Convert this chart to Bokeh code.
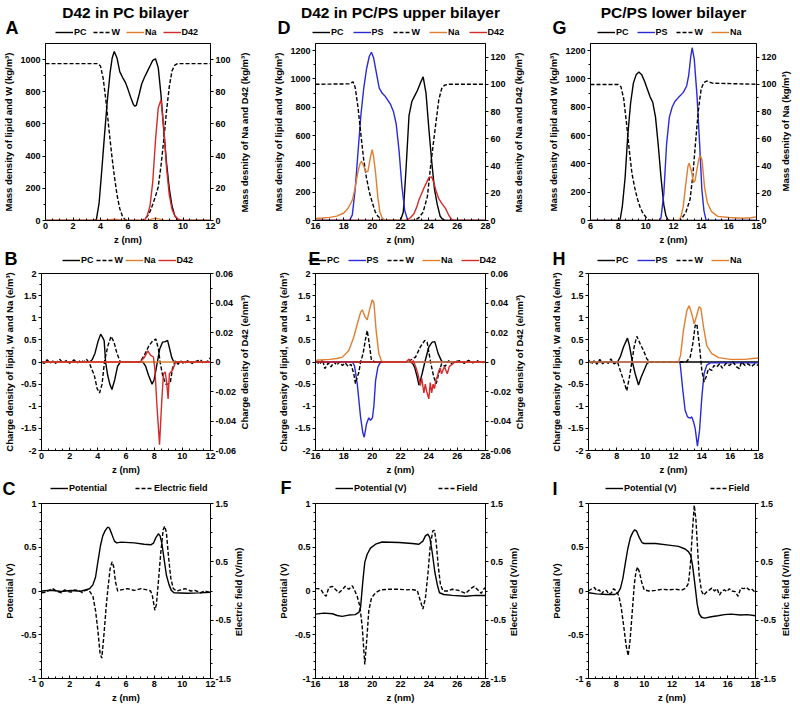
import math
from bokeh.plotting import figure
from bokeh.layouts import row, column
from bokeh.models import (Range1d, LinearAxis, FixedTicker, CustomJSTickFormatter,
                          Legend, LegendItem)
from bokeh.core.properties import value
from bokeh.embed import file_html
from bokeh.resources import INLINE

# ---------------- data (z in nm) ----------------
# Panel A : D42 in PC bilayer, mass density (left kg/m3 ; right kg/m3 for Na, D42)
A_PC = [(0,0),(3.5,0),(3.7,5),(3.9,110),(4.1,320),(4.3,540),(4.5,750),(4.7,920),(4.85,1010),(5.0,1050),
        (5.2,1010),(5.4,925),(5.6,890),(5.8,860),(6.0,815),(6.2,765),(6.4,720),(6.5,710),(6.6,715),(6.8,780),
        (7.0,850),(7.2,890),(7.4,925),(7.6,960),(7.8,995),(8.0,1005),(8.2,950),(8.4,780),(8.6,560),(8.8,360),
        (9.0,200),(9.2,90),(9.4,30),(9.6,5),(9.8,0),(12,0)]
A_W = [(0,975),(3.8,975),(4.0,960),(4.2,880),(4.4,740),(4.6,580),(4.8,420),(5.0,280),(5.2,160),(5.4,75),
       (5.6,25),(5.8,5),(6.0,0),(7.0,0),(7.2,8),(7.4,25),(7.6,55),(7.8,100),(8.0,150),(8.2,210),(8.4,340),
       (8.6,500),(8.8,680),(9.0,830),(9.2,930),(9.4,965),(9.6,975),(12,975)]
A_NA = [(0,0),(4.4,0),(4.8,0.6),(5.0,0.8),(5.2,0.6),(5.6,0),(7.4,0),(7.8,1.0),(8.0,1.4),(8.2,1.0),(8.6,0.2),(9.0,0),(12,0)]
A_D42 = [(0,0),(7.2,0),(7.4,3),(7.6,9),(7.8,24),(8.0,50),(8.2,70),(8.4,75),(8.6,58),(8.8,33),(9.0,16),
         (9.2,7),(9.4,3),(9.6,1.2),(9.8,0.4),(10.0,0),(12,0)]

# Panel D : D42 in PC/PS upper bilayer
D_PC = [(16,0),(22.0,0),(22.2,60),(22.4,380),(22.6,740),(22.8,840),(23.0,880),(23.2,920),(23.4,970),(23.6,1015),
        (23.8,900),(24.0,650),(24.2,420),(24.4,220),(24.6,110),(24.8,30),(25.0,5),(25.2,0),(28,0)]
D_PS = [(16,0),(18.4,0),(18.6,40),(18.8,220),(19.0,480),(19.2,740),(19.4,930),(19.6,1070),(19.8,1160),(19.95,1188),
        (20.1,1150),(20.3,1040),(20.5,935),(20.7,900),(20.9,880),(21.1,850),(21.3,820),(21.5,770),(21.7,680),
        (21.9,490),(22.1,240),(22.3,70),(22.5,5),(22.6,0),(28,0)]
D_W = [(16,962),(18.4,965),(18.65,980),(18.8,940),(19.0,800),(19.2,610),(19.4,430),(19.6,300),(19.8,200),(20.0,130),
       (20.2,65),(20.4,30),(20.6,12),(20.8,0),(23.0,0),(23.3,20),(23.6,60),(23.9,170),(24.1,360),(24.3,530),
       (24.5,690),(24.7,850),(24.9,930),(25.1,955),(25.4,962),(28,962)]
D_NA = [(16,1.5),(16.5,1.8),(17,2.3),(17.5,3.2),(18,5.5),(18.3,9),(18.6,15),(18.8,24),(19.0,36),(19.15,42),
        (19.25,43.5),(19.4,40),(19.55,36),(19.7,36),(19.85,45),(20.0,52),(20.1,47),(20.25,34),(20.4,17),
        (20.55,6),(20.7,2),(20.9,0.3),(21.2,0),(28,0)]
D_D42 = [(16,0),(22.4,0),(22.7,2),(22.95,5),(23.15,10),(23.3,15),(23.5,20),(23.7,25),(23.85,28),(24.0,31.5),
         (24.2,32),(24.35,28),(24.5,22),(24.7,16),(24.95,12),(25.2,8.5),(25.4,4),(25.6,1),(25.8,0),(28,0)]

# Panel G : PC/PS lower bilayer
G_PC = [(6,0),(8.0,0),(8.15,10),(8.3,100),(8.5,300),(8.7,610),(8.9,830),(9.1,970),(9.3,1030),(9.5,1048),
        (9.7,1030),(9.9,985),(10.1,930),(10.3,875),(10.5,835),(10.7,730),(10.9,530),(11.1,300),(11.3,110),
        (11.45,35),(11.6,5),(11.8,0),(18,0)]
G_PS = [(6,0),(11.0,0),(11.1,20),(11.3,190),(11.5,540),(11.7,730),(11.9,800),(12.1,840),(12.35,868),(12.7,903),
        (12.95,950),(13.1,1025),(13.25,1160),(13.35,1220),(13.5,1140),(13.7,880),(13.9,520),(14.05,220),
        (14.2,70),(14.35,5),(14.5,0),(18,0)]
G_W = [(6,960),(8.0,960),(8.2,945),(8.4,860),(8.6,690),(8.8,500),(9.0,330),(9.2,230),(9.4,150),(9.6,90),
       (9.8,50),(10.0,25),(10.2,5),(10.4,0),(12.4,0),(12.6,14),(12.9,60),(13.2,150),(13.4,320),(13.6,560),
       (13.8,780),(14.0,930),(14.2,975),(14.4,985),(14.8,970),(18,962)]
G_NA = [(6,0),(12.4,0),(12.55,3),(12.7,10),(12.9,28),(13.05,40),(13.13,42),(13.3,36),(13.45,28),(13.55,29),
        (13.7,38),(13.85,46),(13.95,47.4),(14.07,44),(14.15,35),(14.25,24),(14.45,13),(14.75,6.5),(15.2,3),
        (16,2.2),(17,1.6),(17.6,2),(18,2.7)]

# Panel B : charge density (left e/m3 ; right e/nm3 for D42)
B_PC = [(0,0),(3.4,0),(3.6,0.05),(3.8,0.2),(4.0,0.45),(4.2,0.63),(4.35,0.55),(4.45,0.48),(4.55,0.0),(4.7,-0.3),
        (4.85,-0.5),(5.0,-0.62),(5.2,-0.4),(5.4,-0.1),(5.6,0),(7.2,0),(7.4,-0.1),(7.6,-0.3),(7.85,-0.5),(8.0,-0.4),
        (8.2,-0.05),(8.4,0.3),(8.6,0.45),(8.8,0.46),(8.95,0.49),(9.1,0.3),(9.25,0.1),(9.4,0),(12,0)]
B_W = [(0,0),(0.2,-0.03),(0.4,0.05),(0.6,-0.02),(0.8,0.02),(1.0,-0.03),(1.3,0.06),(1.5,-0.02),(1.8,0.04),
       (2.0,-0.03),(2.3,0.05),(2.5,-0.02),(2.8,0.04),(3.0,0.0),(3.2,0.06),(3.4,-0.02),(3.55,-0.15),(3.75,-0.3),
       (3.95,-0.6),(4.12,-0.7),(4.3,-0.5),(4.47,0.0),(4.7,0.35),(4.94,0.58),(5.15,0.45),(5.35,0.2),(5.6,0.0),
       (7.0,0.0),(7.3,0.15),(7.6,0.35),(7.9,0.48),(8.12,0.52),(8.3,0.3),(8.42,0.0),(8.6,-0.3),(8.82,-0.5),
       (9.0,-0.5),(9.15,-0.45),(9.3,-0.15),(9.5,0.03),(9.7,-0.05),(9.9,0.02),(10.1,-0.04),(10.4,0.03),
       (10.7,-0.03),(11.0,0.02),(11.3,0.05),(11.5,-0.03),(11.8,0.02),(12,0.1)]
B_NA = [(0,0),(12,0)]
B_D42 = [(0,0),(7.0,0),(7.3,0.003),(7.55,0.0075),(7.75,0.0045),(7.95,0.0034),(8.05,-0.005),(8.2,-0.03),
         (8.38,-0.056),(8.52,-0.03),(8.66,-0.008),(8.78,-0.0067),(8.88,-0.013),(8.99,-0.025),(9.08,-0.008),
         (9.3,-0.0056),(9.53,0),(12,0)]

# Panel E
E_PC = [(16,0),(22.8,0),(23.0,-0.12),(23.18,-0.34),(23.3,-0.52),(23.4,-0.42),(23.53,-0.26),(23.72,0),(24.0,0.34),
        (24.24,0.45),(24.42,0.46),(24.66,0.19),(24.9,0.02),(25.1,0),(28,0)]
E_PS = [(16,0),(18.6,0),(18.75,-0.08),(18.95,-0.5),(19.18,-1.24),(19.34,-1.6),(19.44,-1.7),(19.6,-1.4),(19.76,-1.26),
        (19.88,-1.32),(20.02,-1.26),(20.12,-1.0),(20.24,-0.42),(20.4,-0.12),(20.55,-0.02),(20.7,0),(28,0)]
E_W = [(16,0.02),(16.3,-0.05),(16.5,0.05),(16.66,-0.15),(16.9,-0.02),(17.1,-0.11),(17.3,0.0),(17.5,-0.07),
       (17.7,0.0),(17.9,-0.08),(18.1,-0.02),(18.3,-0.1),(18.5,-0.05),(18.7,-0.26),(18.82,-0.49),(18.94,-0.34),
       (19.05,-0.25),(19.18,0.0),(19.36,0.19),(19.53,0.52),(19.65,0.71),(19.76,0.49),(19.95,0.04),(20.2,0),
       (22.4,0),(22.6,0.02),(23.06,0.11),(23.4,0.34),(23.72,0.49),(23.88,0.45),(24.12,0),(24.35,-0.34),
       (24.52,-0.49),(24.7,-0.26),(24.9,-0.04),(25.15,-0.1),(25.4,0.03),(25.6,-0.04),(25.9,0.01),(26.2,0.03),
       (26.5,-0.03),(26.8,0.04),(27.1,-0.02),(27.4,0.03),(27.7,-0.02),(28,0)]
E_NA = [(16,0.04),(17,0.06),(17.5,0.08),(17.9,0.11),(18.35,0.26),(18.7,0.56),(18.95,0.86),(19.18,1.12),(19.3,1.18),
        (19.5,1.02),(19.65,0.95),(19.8,1.16),(20.0,1.4),(20.12,1.35),(20.28,0.71),(20.47,0.19),(20.66,0.02),
        (20.9,0),(28,0)]
E_D42 = [(16,0),(22.4,0),(22.6,0.002),(22.8,-0.001),(22.9,0.001),(23.1,-0.004),(23.25,-0.009),(23.4,-0.016),
         (23.5,-0.011),(23.65,-0.021),(23.75,-0.015),(23.85,-0.02),(24.0,-0.025),(24.1,-0.014),(24.2,-0.021),
         (24.3,-0.015),(24.4,-0.018),(24.5,-0.012),(24.6,-0.01),(24.7,-0.006),(24.8,-0.004),(24.9,-0.008),
         (25.1,-0.003),(25.3,-0.008),(25.45,-0.003),(25.6,-0.002),(25.8,0),(28,0)]

# Panel H
H_PC = [(6,0),(8.05,0),(8.25,0.12),(8.47,0.34),(8.75,0.54),(8.89,0.37),(9.1,0),(9.29,-0.26),(9.53,-0.52),
        (9.72,-0.34),(9.88,-0.22),(10.12,-0.04),(10.3,0),(18,0)]
H_PS = [(6,0),(12.4,0),(12.47,-0.04),(12.66,-0.64),(12.82,-1.09),(12.99,-1.24),(13.18,-1.27),(13.29,-1.24),
        (13.41,-1.35),(13.53,-1.5),(13.69,-1.9),(13.84,-1.54),(14.0,-0.79),(14.16,-0.26),(14.35,-0.07),
        (14.6,-0.02),(18,-0.02)]
H_W = [(6,0.05),(6.2,-0.05),(6.4,0.03),(6.6,-0.05),(6.8,0.06),(7.0,-0.04),(7.2,0.02),(7.4,-0.03),(7.58,0.07),
       (7.8,-0.04),(8.05,0.0),(8.24,-0.19),(8.47,-0.41),(8.7,-0.65),(8.89,-0.34),(9.06,0),(9.22,0.34),(9.41,0.58),
       (9.65,0.41),(9.88,0.26),(10.12,0.07),(10.35,0),(12.9,0),(13.18,0.11),(13.36,0.41),(13.53,0.82),(13.65,0.86),
       (13.84,0.34),(14.0,-0.19),(14.16,-0.45),(14.3,-0.34),(14.47,-0.15),(14.7,-0.19),(14.85,-0.08),(15.06,-0.11),
       (15.25,-0.04),(15.45,-0.14),(15.7,-0.03),(15.95,-0.08),(16.2,0.0),(16.45,-0.11),(16.65,-0.15),(16.8,0.0),
       (17.05,-0.08),(17.25,-0.04),(17.5,-0.1),(17.75,-0.04),(18,-0.08)]
H_NA = [(6,0),(12.35,0),(12.5,0.15),(12.7,0.71),(12.94,1.16),(13.1,1.27),(13.29,1.09),(13.46,0.86),(13.6,1.01),
        (13.81,1.25),(13.93,1.22),(14.12,0.79),(14.35,0.37),(14.7,0.19),(15.18,0.1),(16,0.06),(17,0.06),(18,0.09)]

# Panel C, F, I : potential (left, V) and electric field (right, V/nm)
C_POT = [(0,0.0),(0.7,0.008),(1.4,-0.005),(2.1,0.005),(2.8,-0.003),(3.41,0.026),(3.65,0.07),(3.84,0.16),(4.0,0.33),
         (4.19,0.52),(4.35,0.63),(4.52,0.69),(4.7,0.73),(4.82,0.72),(4.99,0.65),(5.18,0.57),(5.34,0.55),(5.65,0.558),
         (6.59,0.55),(7.29,0.535),(7.76,0.528),(7.95,0.546),(8.12,0.61),(8.3,0.654),(8.42,0.63),(8.54,0.55),
         (8.7,0.37),(8.87,0.18),(9.06,0.07),(9.22,0.007),(9.41,-0.02),(10.35,-0.026),(11.2,-0.022),(12,-0.015)]
C_FIELD = [(0,-0.03),(0.3,-0.02),(0.6,0.02),(0.8,0.04),(1.05,0.0),(1.41,-0.03),(1.65,0.02),(1.9,-0.01),(2.1,-0.02),
           (2.35,0.02),(2.7,0.0),(2.9,-0.03),(3.15,0.02),(3.4,0.0),(3.65,-0.09),(3.84,-0.34),(4.0,-0.67),(4.16,-1.07),
           (4.28,-1.15),(4.42,-0.79),(4.59,-0.28),(4.7,0.0),(4.87,0.38),(5.01,0.5),(5.13,0.41),(5.25,0.16),(5.41,0.0),
           (5.65,0.02),(6.12,0.04),(6.6,0.01),(7.06,0.04),(7.5,0.02),(7.75,0.0),(7.88,-0.09),(8.05,-0.33),(8.16,-0.23),
           (8.3,0.16),(8.47,0.66),(8.64,1.05),(8.75,1.11),(8.87,1.0),(9.01,0.61),(9.18,0.22),(9.36,0.04),(9.6,0.0),
           (9.88,0.02),(10.2,0.04),(10.6,0.0),(10.9,0.01),(11.3,-0.03),(11.6,0.0),(11.95,-0.025)]
F_POT = [(16,-0.264),(16.6,-0.253),(17.2,-0.26),(17.53,-0.28),(17.88,-0.29),(18.35,-0.275),(18.8,-0.27),(19.06,-0.245),
         (19.18,-0.19),(19.34,0.11),(19.48,0.33),(19.65,0.42),(19.88,0.49),(20.24,0.535),(20.7,0.56),(21.9,0.554),
         (22.82,0.543),(23.3,0.535),(23.58,0.57),(23.76,0.63),(23.93,0.65),(24.07,0.61),(24.24,0.44),(24.42,0.22),
         (24.6,0.07),(24.75,-0.02),(25.06,-0.04),(25.65,-0.05),(26.6,-0.06),(27.3,-0.05),(28,-0.052)]
F_FIELD = [(16,0.04),(16.2,0.04),(16.4,0.02),(16.6,-0.06),(16.75,-0.09),(16.94,0.06),(17.2,0.08),(17.4,0.03),
           (17.65,-0.03),(17.88,0.02),(18.1,0.08),(18.35,0.03),(18.6,0.09),(18.78,0.0),(18.94,-0.09),(19.13,-0.26),
           (19.3,-0.62),(19.48,-1.26),(19.65,-0.73),(19.76,-0.34),(19.95,-0.12),(20.24,-0.03),(20.6,0.02),(21.18,0.03),
           (21.9,0.03),(22.4,0.02),(22.8,0.025),(23.18,0.01),(23.34,-0.12),(23.58,-0.31),(23.76,-0.12),(23.95,0.33),
           (24.1,0.78),(24.28,1.03),(24.4,1.04),(24.52,0.83),(24.66,0.44),(24.82,0.11),(25.0,0.0),(25.3,0.0),
           (25.65,0.03),(26.1,0.01),(26.6,-0.04),(26.95,0.04),(27.2,0.08),(27.45,0.02),(27.7,-0.04),(27.9,0.04),(28,0.06)]
I_POT = [(6,-0.02),(6.59,-0.033),(7.29,-0.04),(7.88,-0.04),(8.12,-0.02),(8.3,0.033),(8.47,0.145),(8.66,0.33),
         (8.82,0.48),(9.01,0.61),(9.18,0.67),(9.32,0.70),(9.46,0.684),(9.65,0.61),(9.84,0.554),(10.0,0.543),
         (10.82,0.543),(11.76,0.524),(12.47,0.51),(12.94,0.48),(13.18,0.45),(13.35,0.405),(13.48,0.29),(13.65,0.07),
         (13.81,-0.15),(13.95,-0.26),(14.12,-0.30),(14.35,-0.31),(14.82,-0.294),(15.29,-0.283),(15.76,-0.27),
         (16.24,-0.264),(16.94,-0.275),(17.41,-0.27),(18,-0.283)]
I_FIELD = [(6,0.0),(6.24,0.04),(6.42,0.06),(6.59,0.0),(6.78,0.02),(6.94,-0.05),(7.1,0.0),(7.29,0.01),(7.48,-0.06),
           (7.65,-0.03),(7.8,0.04),(8.0,0.0),(8.19,-0.09),(8.35,-0.28),(8.54,-0.62),(8.7,-0.93),(8.85,-1.11),
           (8.99,-0.84),(9.13,-0.4),(9.29,0.11),(9.41,0.33),(9.53,0.41),(9.65,0.33),(9.81,0.16),(10.0,0.02),
           (10.35,0.0),(10.82,0.01),(11.3,0.03),(11.76,0.02),(12.24,0.03),(12.7,0.015),(12.99,0.05),(13.18,0.13),
           (13.32,0.44),(13.46,1.0),(13.6,1.47),(13.72,1.22),(13.84,0.72),(13.95,0.27),(14.12,0.0),(14.28,-0.07),
           (14.47,-0.02),(14.7,0.02),(14.86,0.05),(15.06,0.0),(15.24,0.04),(15.41,-0.07),(15.58,0.0),(15.76,0.02),
           (15.94,-0.01),(16.12,0.04),(16.29,0.0),(16.53,-0.01),(16.75,-0.09),(16.94,0.05),(17.18,0.04),(17.36,0.06),
           (17.53,0.02),(17.7,0.04),(17.88,0.0),(18,-0.05)]

# axes ticks
X_TICKS_A = [0, 2, 4, 6, 8, 10, 12]
X_TICKS_D = [16, 18, 20, 22, 24, 26, 28]
X_TICKS_G = [6, 8, 10, 12, 14, 16, 18]
MASS_TICKS_A = [0, 200, 400, 600, 800, 1000]
MASS_TICKS_DG = [0, 200, 400, 600, 800, 1000, 1200]
MASS_R_TICKS_A = [0, 20, 40, 60, 80, 100]
MASS_R_TICKS_DG = [0, 20, 40, 60, 80, 100, 120]
CHG_TICKS = [-2, -1.5, -1, -0.5, 0, 0.5, 1, 1.5, 2]
CHG_R_TICKS = [-0.06, -0.04, -0.02, 0, 0.02, 0.04, 0.06]
POT_TICKS = [-1, -0.5, 0, 0.5, 1]
FIELD_TICKS = [-1.5, -0.5, 0.5, 1.5]

# ---------------- styling / layout ----------------
FONT = "Liberation Sans"
BLACK = "#000000"
BLUE = "#2a2ad8"
ORANGE = "#e07f32"
RED = "#d42a2a"
DASH = "4 2"
COLS = [dict(w=270, bl=40, br=60), dict(w=275, bl=45, br=60), dict(w=254, bl=43, br=41)]
TOTAL_W = sum(c["w"] for c in COLS)
COL_X0 = [0, 270, 545]
FRAME_X = [COL_X0[i] + COLS[i]["bl"] for i in range(3)]
FW = 170
ROWS = [dict(fh=177, bt=5, bb=28), dict(fh=177, bt=5, bb=28), dict(fh=175, bt=5, bb=28)]
HEAD_H = [38, 20, 20]
NBSP = "\u00a0"


def minors(majors, n):
    out = []
    for a, b in zip(majors[:-1], majors[1:]):
        for k in range(1, n):
            out.append(a + (b - a) * k / n)
    return out


def style_axis(ax, ticks, nminor, below=False):
    ax.ticker = FixedTicker(ticks=ticks, minor_ticks=minors(ticks, nminor))
    ax.formatter = CustomJSTickFormatter(code="return String(parseFloat(tick.toPrecision(6)));")
    ax.axis_line_color = BLACK
    ax.major_tick_line_color = BLACK
    ax.minor_tick_line_color = BLACK
    if below:
        ax.major_tick_in, ax.major_tick_out = 3, 0
        ax.minor_tick_in, ax.minor_tick_out = 2, 0
    else:
        ax.major_tick_in, ax.major_tick_out = 0, 3
        ax.minor_tick_in, ax.minor_tick_out = 0, 2
    ax.major_label_text_font = FONT
    ax.major_label_text_font_style = "bold"
    ax.major_label_text_font_size = "9px"
    ax.major_label_text_color = BLACK
    ax.major_label_standoff = 2
    ax.axis_label_text_font = FONT
    ax.axis_label_text_font_style = "bold"
    ax.axis_label_text_font_size = "9.5px"
    ax.axis_label_text_color = BLACK
    ax.axis_label_standoff = 3


def unz(pairs):
    return [p[0] for p in pairs], [p[1] for p in pairs]


def panel(ci, ri, xr, xt, yl, ylt, nly, ylabel, series, yr=None, yrt=None, nry=None,
          rlabel=None, rstand=5, rpad=0):
    c, rw = COLS[ci], ROWS[ri]
    p = figure(width=c["w"], height=rw["bt"] + rw["fh"] + rw["bb"], x_range=Range1d(*xr), y_range=Range1d(*yl),
               output_backend="svg", toolbar_location=None,
               min_border_left=c["bl"], min_border_right=c["br"],
               min_border_top=rw["bt"], min_border_bottom=rw["bb"])
    p.xgrid.visible = False
    p.ygrid.visible = False
    p.outline_line_color = BLACK
    p.outline_line_width = 1
    p.background_fill_color = "white"
    p.border_fill_color = "white"
    style_axis(p.xaxis[0], xt, 4, below=True)
    p.xaxis[0].axis_label = "z (nm)"
    p.xaxis[0].axis_label_standoff = 2
    style_axis(p.yaxis[0], ylt, nly)
    p.yaxis[0].axis_label = ylabel
    if yr is not None:
        p.extra_y_ranges = {"r": Range1d(*yr)}
        ax = LinearAxis(y_range_name="r")
        style_axis(ax, yrt, nry)
        props = ax.properties()
        label = rlabel
        if "axis_label_orientation" in props:
            ax.axis_label_orientation = math.pi / 2
            if "axis_label_align" in props:
                ax.axis_label_align = "start"
                label = NBSP * rpad + rlabel
        ax.axis_label = label
        ax.axis_label_standoff = rstand
        p.add_layout(ax, "right")
    for name, pairs, color, dash, side in series:
        xs, ys = unz(pairs)
        kw = dict(line_color=color, line_width=1.4, line_dash=dash)
        if side == "r":
            kw["y_range_name"] = "r"
        p.line(xs, ys, **kw)
    return p


def header(h, letters, titles, legends):
    hp = figure(width=TOTAL_W, height=h, x_range=Range1d(0, TOTAL_W), y_range=Range1d(0, h),
                output_backend="svg", toolbar_location=None,
                min_border_left=0, min_border_right=0, min_border_top=0, min_border_bottom=0,
                x_axis_type=None, y_axis_type=None)
    hp.outline_line_color = None
    hp.background_fill_color = "white"
    hp.border_fill_color = "white"
    for txt, x, y in letters:
        hp.text(x=[x], y=[y], text=[txt], text_font=value(FONT), text_font_style="bold",
                text_font_size=value("18px"), text_align="left", text_baseline="middle",
                text_color=BLACK)
    for txt, x, y in titles:
        hp.text(x=[x], y=[y], text=[txt], text_font=value(FONT), text_font_style="bold",
                text_font_size=value("15.5px"), text_align="center", text_baseline="middle",
                text_color=BLACK)
    for x, y, sp, series in legends:
        items = []
        for name, _pairs, color, dash, _side in series:
            # legend swatch only: a line kept outside the header's visible range
            r = hp.line(x=[-60, -50], y=[-60, -60], line_color=color, line_width=1.4, line_dash=dash)
            items.append(LegendItem(label=name, renderers=[r]))
        leg = Legend(items=items, orientation="horizontal", location=(x, y))
        leg.label_text_font = FONT
        leg.label_text_font_style = "bold"
        leg.label_text_font_size = "9px"
        leg.label_text_color = BLACK
        leg.glyph_width = 18
        leg.glyph_height = 12
        leg.label_height = 12
        leg.label_width = 1
        leg.label_standoff = 1
        leg.spacing = sp
        leg.padding = 0
        leg.margin = 0
        leg.border_line_alpha = 0
        leg.background_fill_alpha = 0
        hp.add_layout(leg)
    return hp


MASS_L = "Mass density of lipid and W (kg/m\u00b3)"
MASS_R = "Mass desnity of Na and D42 (kg/m\u00b3)"
MASS_R_G = "Mass desnity of Na (kg/m\u00b3)"
CHG_L = "Charge density of lipid, W and Na (e/m\u00b3)"
CHG_R = "Charge density of D42 (e/nm\u00b3)"
POT_L = "Potential (V)"
FIELD_R = "Electric field (V/nm)"

SER_A = [("PC", A_PC, BLACK, "solid", "l"), ("W", A_W, BLACK, DASH, "l"),
         ("Na", A_NA, ORANGE, "solid", "r"), ("D42", A_D42, RED, "solid", "r")]
SER_D = [("PC", D_PC, BLACK, "solid", "l"), ("PS", D_PS, BLUE, "solid", "l"), ("W", D_W, BLACK, DASH, "l"),
         ("Na", D_NA, ORANGE, "solid", "r"), ("D42", D_D42, RED, "solid", "r")]
SER_G = [("PC", G_PC, BLACK, "solid", "l"), ("PS", G_PS, BLUE, "solid", "l"), ("W", G_W, BLACK, DASH, "l"),
         ("Na", G_NA, ORANGE, "solid", "r")]
SER_B = [("PC", B_PC, BLACK, "solid", "l"), ("W", B_W, BLACK, DASH, "l"),
         ("Na", B_NA, ORANGE, "solid", "l"), ("D42", B_D42, RED, "solid", "r")]
SER_E = [("PC", E_PC, BLACK, "solid", "l"), ("PS", E_PS, BLUE, "solid", "l"), ("W", E_W, BLACK, DASH, "l"),
         ("Na", E_NA, ORANGE, "solid", "l"), ("D42", E_D42, RED, "solid", "r")]
SER_H = [("PC", H_PC, BLACK, "solid", "l"), ("PS", H_PS, BLUE, "solid", "l"), ("W", H_W, BLACK, DASH, "l"),
         ("Na", H_NA, ORANGE, "solid", "l")]
SER_C = [("Potential", C_POT, BLACK, "solid", "l"), ("Electric field", C_FIELD, BLACK, DASH, "r")]
SER_F = [("Potential (V)", F_POT, BLACK, "solid", "l"), ("Field", F_FIELD, BLACK, DASH, "r")]
SER_I = [("Potential (V)", I_POT, BLACK, "solid", "l"), ("Field", I_FIELD, BLACK, DASH, "r")]

pA = panel(0, 0, (0, 12), X_TICKS_A, (0, 1100), MASS_TICKS_A, 2, MASS_L, SER_A,
           yr=(0, 110), yrt=MASS_R_TICKS_A, nry=2, rlabel=MASS_R, rstand=11, rpad=3)
pD = panel(1, 0, (16, 28), X_TICKS_D, (0, 1250), MASS_TICKS_DG, 2, MASS_L, SER_D,
           yr=(0, 130), yrt=MASS_R_TICKS_DG, nry=2, rlabel=MASS_R, rstand=10, rpad=3)
pG = panel(2, 0, (6, 18), X_TICKS_G, (0, 1250), MASS_TICKS_DG, 2, MASS_L, SER_G,
           yr=(0, 130), yrt=MASS_R_TICKS_DG, nry=2, rlabel=MASS_R_G, rstand=6, rpad=11)
pB = panel(0, 1, (0, 12), X_TICKS_A, (-2, 2), CHG_TICKS, 2, CHG_L, SER_B,
           yr=(-0.06, 0.06), yrt=CHG_R_TICKS, nry=2, rlabel=CHG_R, rstand=5, rpad=8)
pE = panel(1, 1, (16, 28), X_TICKS_D, (-2, 2), CHG_TICKS, 2, CHG_L, SER_E,
           yr=(-0.06, 0.06), yrt=CHG_R_TICKS, nry=2, rlabel=CHG_R, rstand=5, rpad=8)
pH = panel(2, 1, (6, 18), X_TICKS_G, (-2, 2), CHG_TICKS, 2, CHG_L, SER_H)
pC = panel(0, 2, (0, 12), X_TICKS_A, (-1, 1), POT_TICKS, 5, POT_L, SER_C,
           yr=(-1.5, 1.5), yrt=FIELD_TICKS, nry=4, rlabel=FIELD_R, rstand=4, rpad=16)
pF = panel(1, 2, (16, 28), X_TICKS_D, (-1, 1), POT_TICKS, 5, POT_L, SER_F,
           yr=(-1.5, 1.5), yrt=FIELD_TICKS, nry=4, rlabel=FIELD_R, rstand=4, rpad=16)
pI = panel(2, 2, (6, 18), X_TICKS_G, (-1, 1), POT_TICKS, 5, POT_L, SER_I,
           yr=(-1.5, 1.5), yrt=FIELD_TICKS, nry=4, rlabel=FIELD_R, rstand=6, rpad=16)

fx = FRAME_X
h1 = header(HEAD_H[0],
            [("A", 5, 10.5), ("D", 277, 10.5), ("G", 552, 10.5)],
            [("D42 in PC bilayer", fx[0] + FW / 2, 26), ("D42 in PC/PS upper bilayer", fx[1] + FW / 2, 26),
             ("PC/PS lower bilayer", fx[2] + FW / 2, 26)],
            [(55, 0, 6, SER_A), (312, 0, 9, SER_D), (597, 0, 8, SER_G)])
h2 = header(HEAD_H[1],
            [("B", 4, 10), ("E", 308, 10), ("H", 552, 10)], [],
            [(62, 2, 2, SER_B), (308, 2, 8, SER_E), (597, 2, 8, SER_H)])
h3 = header(HEAD_H[2],
            [("C", 2, 10), ("F", 280, 10.5), ("I", 552, 10)], [],
            [(50, 4, 28, SER_C), (335, 4, 31, SER_F), (605, 4, 33, SER_I)])

layout = column(h1, row(pA, pD, pG), h2, row(pB, pE, pH), h3, row(pC, pF, pI))
open("out.html", "w").write(file_html(layout, INLINE, title="Density profiles"))
